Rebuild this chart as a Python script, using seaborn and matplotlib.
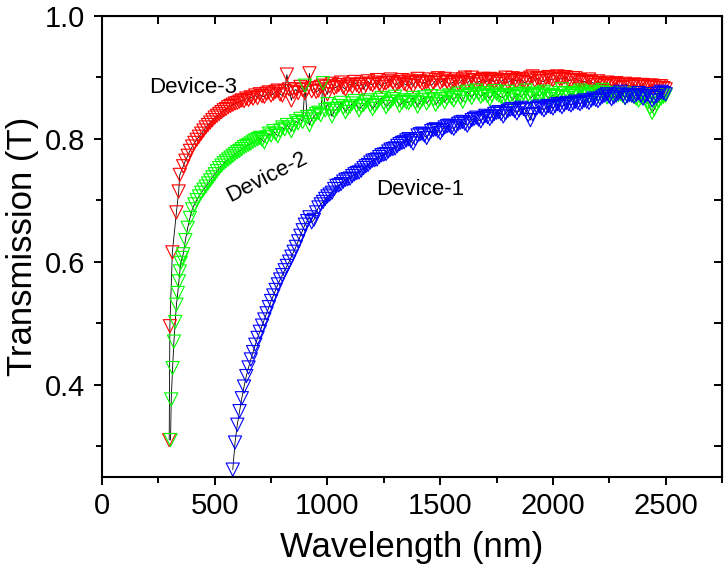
import matplotlib
matplotlib.use("Agg")
from matplotlib import pyplot as plt
from matplotlib.ticker import MultipleLocator
import pandas as pd
import seaborn as sns

# shared wavelength grid (nm), 10 nm steps
wl_grid = [360, 370, 380, 390, 400, 410, 420, 430, 440, 450, 460, 470, 480, 490, 500, 510, 520, 530, 540, 550,
           560, 570, 580, 590, 600, 610, 620, 630, 640, 650, 660, 670, 680, 690, 700, 710, 720, 730, 740, 750,
           760, 770, 780, 790, 800, 810, 820, 830, 840, 850, 860, 870, 880, 890, 900, 910, 920, 930, 940, 950,
           960, 970, 980, 990, 1000, 1010, 1020, 1030, 1040, 1050, 1060, 1070, 1080, 1090, 1100, 1110, 1120, 1130, 1140, 1150,
           1160, 1170, 1180, 1190, 1200, 1210, 1220, 1230, 1240, 1250, 1260, 1270, 1280, 1290, 1300, 1310, 1320, 1330, 1340, 1350,
           1360, 1370, 1380, 1390, 1400, 1410, 1420, 1430, 1440, 1450, 1460, 1470, 1480, 1490, 1500, 1510, 1520, 1530, 1540, 1550,
           1560, 1570, 1580, 1590, 1600, 1610, 1620, 1630, 1640, 1650, 1660, 1670, 1680, 1690, 1700, 1710, 1720, 1730, 1740, 1750,
           1760, 1770, 1780, 1790, 1800, 1810, 1820, 1830, 1840, 1850, 1860, 1870, 1880, 1890, 1900, 1910, 1920, 1930, 1940, 1950,
           1960, 1970, 1980, 1990, 2000, 2010, 2020, 2030, 2040, 2050, 2060, 2070, 2080, 2090, 2100, 2110, 2120, 2130, 2140, 2150,
           2160, 2170, 2180, 2190, 2200, 2210, 2220, 2230, 2240, 2250, 2260, 2270, 2280, 2290, 2300, 2310, 2320, 2330, 2340, 2350,
           2360, 2370, 2380, 2390, 2400, 2410, 2420, 2430, 2440, 2450, 2460, 2470, 2480, 2490, 2500]

# Device-3 (red)
dev3_wl_start = [298, 301, 312, 330, 340, 345]
dev3_t_start = [0.31, 0.495, 0.615, 0.68, 0.714, 0.741]
dev3_t = [0.755, 0.764, 0.772, 0.780, 0.787, 0.793, 0.798, 0.803, 0.808, 0.813, 0.818, 0.822, 0.826, 0.830, 0.834, 0.837, 0.840, 0.843, 0.846, 0.848,
          0.851, 0.853, 0.855, 0.857, 0.858, 0.860, 0.862, 0.861, 0.865, 0.863, 0.867, 0.865, 0.870, 0.866, 0.872, 0.869, 0.868, 0.873, 0.875, 0.870,
          0.873, 0.876, 0.878, 0.872, 0.870, 0.877, 0.904, 0.880, 0.862, 0.876, 0.880, 0.874, 0.884, 0.879, 0.874, 0.881, 0.906, 0.877, 0.882, 0.876,
          0.878, 0.884, 0.886, 0.880, 0.872, 0.885, 0.889, 0.882, 0.884, 0.887, 0.891, 0.883, 0.880, 0.886, 0.888, 0.884, 0.892, 0.887, 0.884, 0.889,
          0.880, 0.887, 0.893, 0.889, 0.887, 0.891, 0.895, 0.888, 0.884, 0.890, 0.890, 0.893, 0.896, 0.891, 0.886, 0.889, 0.892, 0.895, 0.889, 0.887,
          0.894, 0.890, 0.885, 0.892, 0.897, 0.893, 0.889, 0.891, 0.892, 0.896, 0.886, 0.890, 0.895, 0.898, 0.891, 0.894, 0.897, 0.892, 0.887, 0.890,
          0.893, 0.896, 0.889, 0.892, 0.896, 0.899, 0.890, 0.894, 0.899, 0.895, 0.888, 0.892, 0.894, 0.897, 0.891, 0.895, 0.897, 0.894, 0.892, 0.896,
          0.889, 0.893, 0.895, 0.899, 0.891, 0.894, 0.898, 0.895, 0.893, 0.897, 0.896, 0.892, 0.890, 0.896, 0.899, 0.901, 0.894, 0.898, 0.897, 0.893,
          0.893, 0.898, 0.900, 0.896, 0.895, 0.899, 0.901, 0.897, 0.897, 0.900, 0.899, 0.895, 0.894, 0.898, 0.898, 0.894, 0.895, 0.892, 0.893, 0.890,
          0.896, 0.892, 0.890, 0.887, 0.893, 0.890, 0.888, 0.885, 0.891, 0.888, 0.886, 0.889, 0.890, 0.887, 0.884, 0.882, 0.889, 0.887, 0.886, 0.884,
          0.888, 0.886, 0.884, 0.887, 0.887, 0.884, 0.883, 0.886, 0.886, 0.883, 0.882, 0.885, 0.885, 0.882, 0.880]

# Device-2 (green)
dev2_wl_start = [304, 307, 313, 319, 325, 330, 336, 341, 345, 349, 355]
dev2_t_start = [0.31, 0.376, 0.427, 0.47, 0.502, 0.53, 0.549, 0.568, 0.584, 0.598, 0.606]
dev2_t = [0.612, 0.635, 0.655, 0.671, 0.685, 0.693, 0.700, 0.706, 0.712, 0.717, 0.722, 0.727, 0.732, 0.737, 0.742, 0.747, 0.752, 0.756, 0.760, 0.763,
          0.766, 0.769, 0.772, 0.775, 0.778, 0.780, 0.783, 0.786, 0.788, 0.790, 0.792, 0.795, 0.797, 0.799, 0.801, 0.798, 0.794, 0.802, 0.808, 0.805,
          0.812, 0.808, 0.804, 0.813, 0.818, 0.815, 0.822, 0.818, 0.812, 0.822, 0.828, 0.825, 0.832, 0.827, 0.886, 0.835, 0.822, 0.831, 0.836, 0.840,
          0.842, 0.838, 0.890, 0.846, 0.856, 0.848, 0.836, 0.845, 0.848, 0.853, 0.858, 0.850, 0.843, 0.849, 0.852, 0.857, 0.861, 0.853, 0.846, 0.852,
          0.855, 0.859, 0.862, 0.854, 0.848, 0.853, 0.858, 0.863, 0.866, 0.858, 0.851, 0.856, 0.860, 0.864, 0.868, 0.860, 0.853, 0.858, 0.862, 0.859,
          0.858, 0.862, 0.866, 0.859, 0.852, 0.858, 0.863, 0.867, 0.857, 0.862, 0.869, 0.864, 0.855, 0.860, 0.864, 0.868, 0.859, 0.865, 0.870, 0.866,
          0.862, 0.868, 0.873, 0.866, 0.860, 0.869, 0.876, 0.871, 0.866, 0.872, 0.878, 0.873, 0.868, 0.871, 0.874, 0.869, 0.864, 0.870, 0.877, 0.873,
          0.870, 0.868, 0.866, 0.871, 0.876, 0.869, 0.862, 0.867, 0.872, 0.870, 0.868, 0.873, 0.878, 0.871, 0.865, 0.869, 0.873, 0.871, 0.869, 0.873,
          0.876, 0.870, 0.864, 0.868, 0.871, 0.869, 0.868, 0.874, 0.880, 0.873, 0.866, 0.870, 0.874, 0.872, 0.869, 0.873, 0.878, 0.875, 0.872, 0.870,
          0.868, 0.872, 0.876, 0.873, 0.871, 0.875, 0.879, 0.873, 0.867, 0.870, 0.874, 0.872, 0.870, 0.871, 0.872, 0.869, 0.866, 0.870, 0.873, 0.870,
          0.868, 0.865, 0.862, 0.866, 0.870, 0.864, 0.858, 0.850, 0.842, 0.848, 0.856, 0.861, 0.865, 0.868, 0.870]

# Device-1 (blue), starts on the grid at 580 nm
dev1_t = [0.262, 0.306, 0.335, 0.357, 0.378, 0.397, 0.414, 0.428, 0.441, 0.453, 0.465, 0.476, 0.486, 0.496, 0.506, 0.516, 0.526, 0.536,
          0.545, 0.554, 0.563, 0.571, 0.578, 0.586, 0.593, 0.600, 0.608, 0.616, 0.624, 0.633, 0.642, 0.651, 0.660, 0.666, 0.672, 0.664, 0.668, 0.680,
          0.688, 0.693, 0.697, 0.702, 0.706, 0.709, 0.712, 0.718, 0.723, 0.724, 0.726, 0.730, 0.733, 0.734, 0.735, 0.739, 0.742, 0.744, 0.745, 0.748,
          0.752, 0.755, 0.757, 0.761, 0.764, 0.765, 0.766, 0.770, 0.773, 0.774, 0.775, 0.779, 0.782, 0.783, 0.784, 0.788, 0.791, 0.793, 0.794, 0.797,
          0.799, 0.796, 0.792, 0.799, 0.805, 0.807, 0.808, 0.805, 0.801, 0.807, 0.812, 0.814, 0.815, 0.812, 0.809, 0.814, 0.818, 0.820, 0.821, 0.818,
          0.816, 0.820, 0.824, 0.826, 0.827, 0.824, 0.821, 0.826, 0.830, 0.832, 0.834, 0.831, 0.828, 0.833, 0.837, 0.835, 0.832, 0.836, 0.840, 0.842,
          0.843, 0.840, 0.836, 0.841, 0.845, 0.847, 0.848, 0.845, 0.841, 0.846, 0.850, 0.848, 0.846, 0.838, 0.830, 0.840, 0.848, 0.850, 0.852, 0.849,
          0.846, 0.850, 0.853, 0.851, 0.849, 0.853, 0.856, 0.854, 0.851, 0.855, 0.858, 0.856, 0.854, 0.857, 0.860, 0.858, 0.856, 0.859, 0.862, 0.860,
          0.858, 0.862, 0.865, 0.863, 0.861, 0.865, 0.868, 0.870, 0.872, 0.868, 0.864, 0.867, 0.870, 0.873, 0.876, 0.871, 0.866, 0.869, 0.871, 0.870,
          0.868, 0.871, 0.874, 0.870, 0.865, 0.869, 0.872, 0.868, 0.862, 0.866, 0.869, 0.873, 0.876, 0.874, 0.872]

device_labels = ["Device-1", "Device-2", "Device-3"]

dev3 = pd.DataFrame({"wl": dev3_wl_start + wl_grid, "T": dev3_t_start + dev3_t})
dev2 = pd.DataFrame({"wl": dev2_wl_start + wl_grid, "T": dev2_t_start + dev2_t})
dev1 = pd.DataFrame({"wl": wl_grid[22:], "T": dev1_t})

sns.set_style("ticks")
plt.rcParams["font.family"] = ["Liberation Sans", "DejaVu Sans"]
plt.rcParams.update({"axes.edgecolor": "black", "xtick.color": "black", "ytick.color": "black",
                     "text.color": "black", "axes.labelcolor": "black"})

fig = plt.figure(figsize=(7.25, 5.77), dpi=100)
ax = fig.add_axes([0.1407, 0.1733, 0.8552, 0.7998])

for df, color in [(dev3, "#ff0000"), (dev2, "#00ff00"), (dev1, "#0000ff")]:
    sns.lineplot(data=df, x="wl", y="T", sort=False, estimator=None, color="black", linewidth=0.6, ax=ax, zorder=1)
    sns.scatterplot(data=df, x="wl", y="T", marker="v", s=90, color=color, facecolor="none",
                    edgecolor=color, linewidth=0.8, ax=ax, zorder=2)

ax.set_xlim(0, 2750)
ax.set_ylim(0.25, 1.0)
ax.xaxis.set_major_locator(MultipleLocator(500))
ax.xaxis.set_minor_locator(MultipleLocator(250))
ax.yaxis.set_major_locator(MultipleLocator(0.2))
ax.yaxis.set_minor_locator(MultipleLocator(0.1))
ax.yaxis.set_major_formatter(plt.FormatStrFormatter("%.1f"))

ax.set_xlabel("Wavelength (nm)", fontsize=25, labelpad=8)
ax.set_ylabel("Transmission (T)", fontsize=25, labelpad=4)
ax.tick_params(which="major", direction="out", length=6, width=1.4, labelsize=21)
ax.tick_params(axis="y", which="major", pad=6)
ax.tick_params(axis="x", which="major", pad=5)
ax.tick_params(which="minor", direction="out", length=4, width=1.4)
for s in ax.spines.values():
    s.set_linewidth(1.5)
    s.set_visible(True)

# inward ticks on top and right
top = ax.secondary_xaxis("top")
top.xaxis.set_major_locator(MultipleLocator(500))
top.xaxis.set_minor_locator(MultipleLocator(250))
top.tick_params(which="both", direction="in", length=6, width=1.4, labeltop=False)
right = ax.secondary_yaxis("right")
right.yaxis.set_major_locator(MultipleLocator(0.2))
right.yaxis.set_minor_locator(MultipleLocator(0.1))
right.tick_params(which="both", direction="in", length=6, width=1.4, labelright=False)

ax.text(404, 0.883, device_labels[2], fontsize=16, ha="center", va="center")
ax.text(731, 0.738, device_labels[1], fontsize=16, ha="center", va="center", rotation=27)
ax.text(1410, 0.717, device_labels[0], fontsize=16, ha="center", va="center")

plt.savefig("out.png", dpi=100)
plt.close()
